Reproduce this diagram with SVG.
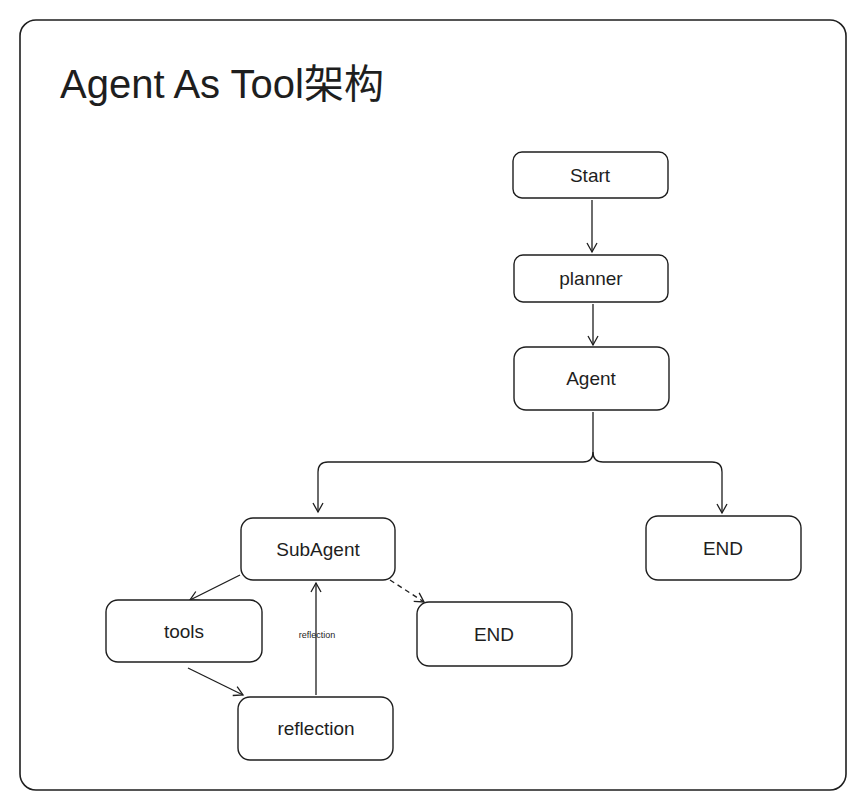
<svg xmlns="http://www.w3.org/2000/svg" width="866" height="808" viewBox="0 0 866 808">
<style>
.n{fill:#fff;stroke:#1e1e1e;stroke-width:1.4}
.t{font-family:"Liberation Sans","Noto Sans CJK SC",sans-serif;font-size:19px;fill:#1e1e1e;text-anchor:middle;dominant-baseline:central}
.c{fill:none;stroke:#1e1e1e;stroke-width:1.3;marker-end:url(#a)}
</style>
<defs><marker id="a" markerWidth="12" markerHeight="12" refX="10" refY="6" orient="auto" markerUnits="userSpaceOnUse"><path d="M1,1 L10,6 L1,11" fill="none" stroke="#1e1e1e" stroke-width="1.3"/></marker></defs>
<rect width="866" height="808" fill="#fff"/>
<rect x="20" y="20" width="826" height="770" rx="16" fill="none" stroke="#1e1e1e" stroke-width="1.6"/>
<text x="60" y="98" style="font-family:'Liberation Sans','Noto Sans CJK SC',sans-serif;font-size:40px;fill:#1e1e1e">Agent As Tool架构</text>
<g id="connectors">
<path class="c" d="M592,200 L592,252"/>
<path class="c" d="M593,304 L593,345"/>
<path class="c" d="M593,412 L593,452 Q593,462 583,462 L328,462 Q318,462 318,472 L318,512"/>
<path class="c" d="M593,452 Q593,462 603,462 L712,462 Q722,462 722,472 L722,513"/>
<path class="c" d="M240,575 L190,600"/>
<path class="c" d="M188,668 L243,695"/>
<path class="c" d="M316,695 L316,583"/>
<text x="317" y="638" style="font-family:'Liberation Sans',sans-serif;font-size:9px;fill:#1e1e1e;text-anchor:middle">reflection</text>
<path class="c" d="M390,580 L424,602" stroke-dasharray="5,4"/>
</g>
<g id="start"><rect class="n" x="513" y="152" width="155" height="46" rx="9"/><text class="t" x="590" y="175">Start</text></g>
<g id="planner"><rect class="n" x="514" y="255" width="154" height="47" rx="9"/><text class="t" x="591" y="278">planner</text></g>
<g id="agent"><rect class="n" x="514" y="347" width="155" height="63" rx="12"/><text class="t" x="591" y="378">Agent</text></g>
<g id="subagent"><rect class="n" x="241" y="518" width="154" height="62" rx="12"/><text class="t" x="318" y="549">SubAgent</text></g>
<g id="end1"><rect class="n" x="646" y="516" width="155" height="64" rx="12"/><text class="t" x="723" y="548">END</text></g>
<g id="tools"><rect class="n" x="106" y="600" width="156" height="62" rx="12"/><text class="t" x="184" y="631">tools</text></g>
<g id="end2"><rect class="n" x="417" y="602" width="155" height="64" rx="12"/><text class="t" x="494" y="634">END</text></g>
<g id="reflection"><rect class="n" x="238" y="697" width="155" height="63" rx="12"/><text class="t" x="316" y="728">reflection</text></g>
</svg>
